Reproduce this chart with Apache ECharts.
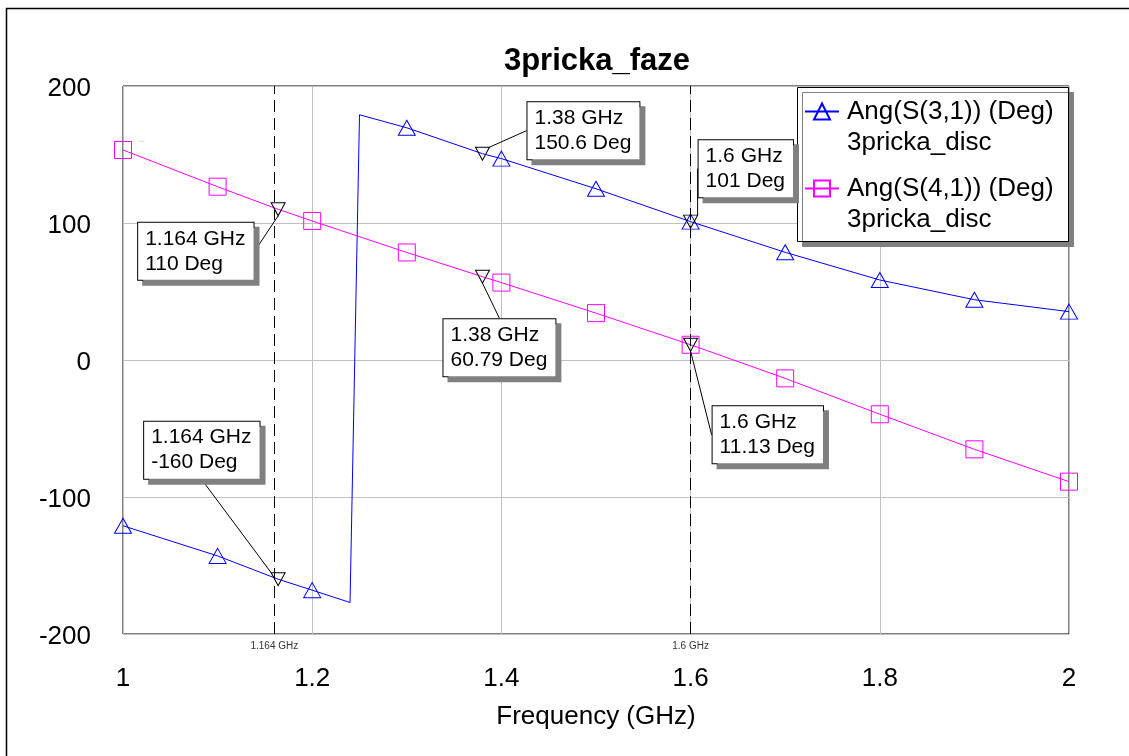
<!DOCTYPE html>
<html>
<head>
<meta charset="utf-8">
<title>3pricka_faze</title>
<script src="https://cdn.jsdelivr.net/npm/echarts@6/dist/echarts.min.js"></script>
<style>
  html, body { margin: 0; padding: 0; background: #fff; }
  #chart { width: 1129px; height: 756px; }
</style>
</head>
<body>
<div id="chart"></div>
<script>
// Ang(S(3,1)) - wraps from -180 to 180 near 1.25 GHz
const freqS31 = [1, 1.1, 1.164, 1.2, 1.24, 1.25, 1.3, 1.38, 1.4, 1.5, 1.6, 1.7, 1.8, 1.9, 2];
const angS31 = [-121, -143, -160, -168, -177, 179, 169.5, 150.6, 147, 125, 101, 78.6, 58.4, 44, 35.3];
// Ang(S(4,1))
const freqS41 = [1, 1.1, 1.164, 1.2, 1.3, 1.38, 1.4, 1.5, 1.6, 1.7, 1.8, 1.9, 2];
const angS41 = [153.3, 126.5, 110, 101.5, 78.5, 60.79, 56.5, 34.2, 11.13, -13.4, -39.6, -65.2, -88.8];
// frequencies that carry a trace symbol
const symbolFreqs = [1, 1.1, 1.2, 1.3, 1.4, 1.5, 1.6, 1.7, 1.8, 1.9, 2];
// marker readouts
const markerFreqs = [1.164, 1.38, 1.6];
// vertical marker lines
const vlineFreqs = [1.164, 1.6];
const nameS31 = "Ang(S(3,1)) (Deg)";
const nameS41 = "Ang(S(4,1)) (Deg)";
const dataset = "3pricka_disc";

const FONT = 'Arial, "Liberation Sans", sans-serif';
const BLUE = "#0000ff";
const PINK = "#ff00ff";

// label box offsets from the marker: [left edge dx, centre dy] in pixels
const offsS31 = [[-134, -129], [45, -23], [8, -53]];
const offsS41 = [[-140, 42], [-39, 71], [22, 90]];

function tracePoints(freqs, vals) {
  return freqs.map(function(f, i) {
    const item = { value: [f, vals[i]] };
    if (symbolFreqs.indexOf(f) < 0) item.symbol = "none";
    return item;
  });
}

function markerPoints(freqs, vals) {
  return markerFreqs.map(function(f) {
    return [f, vals[freqs.indexOf(f)]];
  });
}

function markerSeries(name, pts, offs) {
  return {
    name: name,
    type: "scatter",
    z: 5,
    data: pts,
    symbol: "path://M0,0L14,0L7,13Z",
    symbolSize: [14, 13],
    itemStyle: { color: "rgba(255,255,255,0)", borderColor: "#000", borderWidth: 1, opacity: 1 },
    label: {
      show: true,
      position: "inside",
      formatter: function(p) {
        return p.value[0] + " GHz\n" + p.value[1] + " Deg";
      },
      color: "#000",
      fontFamily: FONT,
      fontSize: 21,
      lineHeight: 25,
      align: "left",
      backgroundColor: "#fff",
      borderColor: "#000",
      borderWidth: 1,
      padding: [4, 8, 3, 7],
      shadowColor: "#808080",
      shadowOffsetX: 5,
      shadowOffsetY: 5,
      shadowBlur: 0
    },
    labelLine: { show: true, lineStyle: { color: "#000", width: 1 } },
    labelLayout: function(params) {
      const o = offs[params.dataIndex];
      return { dx: o[0], dy: o[1] };
    }
  };
}

function legendFor(name, top) {
  return {
    data: [name],
    orient: "vertical",
    left: 804,
    top: top,
    padding: 0,
    itemWidth: 34,
    itemHeight: 20,
    selectedMode: false,
    // empty first row so the icon lines up with the series name row
    formatter: function(n) {
      return "{s| }\n{t|" + n + "}\n{t|" + dataset + "}";
    },
    textStyle: {
      color: "#000",
      rich: {
        s: { fontFamily: FONT, fontSize: 26, lineHeight: 31 },
        t: { fontFamily: FONT, fontSize: 26, lineHeight: 31, color: "#000", padding: [0, 0, 0, 3] }
      }
    }
  };
}

const chart = echarts.init(document.getElementById("chart"));
chart.setOption({
  animation: false,
  backgroundColor: "#fff",
  title: {
    text: "3pricka_faze",
    left: 592,
    top: 41,
    textAlign: "center",
    textStyle: { fontFamily: FONT, fontSize: 31, fontWeight: "bold", color: "#000" }
  },
  legend: [legendFor(nameS31, 67.5), legendFor(nameS41, 144.5)],
  grid: {
    left: 123,
    right: 60,
    top: 86,
    bottom: 122,
    show: true,
    borderColor: "#000",
    borderWidth: 1
  },
  xAxis: {
    type: "value",
    min: 1,
    max: 2,
    interval: 0.2,
    axisLine: { show: false },
    axisTick: { show: false },
    splitLine: { lineStyle: { color: "#c0c0c0", width: 1 } },
    axisLabel: { fontFamily: FONT, fontSize: 26, color: "#000", margin: 32 },
    name: "Frequency (GHz)",
    nameLocation: "middle",
    nameGap: 70,
    nameTextStyle: { fontFamily: FONT, fontSize: 26, color: "#000" }
  },
  yAxis: {
    type: "value",
    min: -200,
    max: 200,
    interval: 100,
    axisLine: { show: false },
    axisTick: { show: false },
    splitLine: { lineStyle: { color: "#c0c0c0", width: 1 } },
    axisLabel: {
      fontFamily: FONT,
      fontSize: 26,
      color: "#000",
      margin: 32,
      verticalAlign: "top",
      lineHeight: 5
    }
  },
  graphic: [
    {
      type: "rect",
      silent: true,
      shape: { x: 6.5, y: 8.5, width: 1300, height: 900 },
      style: { fill: "none", stroke: "#000", lineWidth: 1.5 }
    },
    {
      type: "rect",
      silent: true,
      z: 3,
      shape: { x: 797.5, y: 87.5, width: 271, height: 154 },
      style: {
        fill: "#fff",
        stroke: "#000",
        lineWidth: 1,
        shadowColor: "#808080",
        shadowOffsetX: 5,
        shadowOffsetY: 5,
        shadowBlur: 0
      }
    }
  ],
  series: [
    {
      name: nameS31,
      type: "line",
      z: 2,
      data: tracePoints(freqS31, angS31),
      symbol: "triangle",
      symbolSize: [17, 15],
      showAllSymbol: true,
      lineStyle: { color: BLUE, width: 1 },
      itemStyle: { color: "rgba(255,255,255,0)", borderColor: BLUE, borderWidth: 1 },
      markLine: {
        silent: true,
        symbol: ["none", "none"],
        lineStyle: { color: "#000", width: 1, type: [12, 6] },
        label: {
          show: true,
          position: "start",
          distance: 7,
          formatter: "{b}",
          fontFamily: FONT,
          fontSize: 10,
          color: "#333"
        },
        data: vlineFreqs.map(function(f) {
          return { xAxis: f, name: f + " GHz" };
        })
      }
    },
    {
      name: nameS41,
      type: "line",
      z: 2,
      data: tracePoints(freqS41, angS41),
      symbol: "rect",
      symbolSize: 17,
      showAllSymbol: true,
      lineStyle: { color: PINK, width: 1 },
      itemStyle: { color: "rgba(255,255,255,0)", borderColor: PINK, borderWidth: 1 }
    },
    markerSeries("mkS31", markerPoints(freqS31, angS31), offsS31),
    markerSeries("mkS41", markerPoints(freqS41, angS41), offsS41)
  ]
});
</script>
</body>
</html>
